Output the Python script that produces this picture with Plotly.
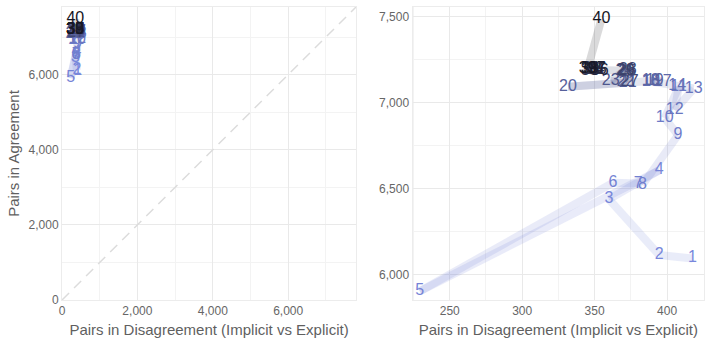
import plotly.graph_objects as go
from plotly.subplots import make_subplots

# ---- data ----
labels = [str(i) for i in range(1, 41)]
disagree = [417.5, 394.5, 359.9, 394.5, 229.3, 362.7, 380.0, 383.0, 407.6, 398.4,
            408.0, 405.3, 418.4, 407.0, 388.7, 389.0, 397.0, 388.7, 391.5, 331.6,
            372.8, 371.5, 361.1, 370.5, 372.5, 371.5, 374.2, 372.8, 371.5, 346.6,
            348.0, 348.7, 346.6, 350.8, 352.1, 353.5, 351.4, 346.6, 345.2, 354.7]
agree = [6096, 6116, 6439, 6607, 5906, 6535, 6530, 6522, 6812, 6909,
         7090, 6956, 7081, 7097, 7122, 7122, 7122, 7126, 7126, 7091,
         7116, 7120, 7126, 7184, 7180, 7184, 7120, 7190, 7184, 7190,
         7196, 7190, 7184, 7190, 7190, 7184, 7196, 7196, 7196, 7484]

left_ticks = [0, 2000, 4000, 6000]
right_xticks = [250, 300, 350, 400]
right_yticks = [6000, 6500, 7000, 7500]

# ---- colours along the sequence ----
c0 = (120, 135, 220)
c1 = (20, 20, 30)
n = len(labels)
def col(i, a=None):
    t = (i / (n - 1)) ** 1.5
    r, g, b = [round(c0[k] + (c1[k] - c0[k]) * t) for k in range(3)]
    return f"rgba({r},{g},{b},{a})" if a is not None else f"rgb({r},{g},{b})"

text_colors = [col(i) for i in range(n)]

fig = make_subplots(rows=1, cols=2, horizontal_spacing=0.088)

# diagonal reference in left panel
fig.add_trace(go.Scatter(x=[0, 7800], y=[0, 7800], mode="lines",
                         line=dict(color="#dcdcdc", width=1.5, dash="10px,7px"),
                         hoverinfo="skip", showlegend=False), row=1, col=1)

for c in (1, 2):
    for i in range(n - 1):
        fig.add_trace(go.Scatter(x=disagree[i:i + 2], y=agree[i:i + 2], mode="lines",
                                 line=dict(color=col(i + 0.5, 0.16), width=8),
                                 hoverinfo="skip", showlegend=False), row=1, col=c)
    fig.add_trace(go.Scatter(x=disagree, y=agree, mode="text", text=labels,
                             textposition="middle center",
                             textfont=dict(size=16, color=text_colors,
                                           family="Liberation Sans, Arial, sans-serif"),
                             showlegend=False), row=1, col=c)

axis_common = dict(showgrid=True, gridcolor="#e9e9e9", gridwidth=1,
                   zeroline=False, showline=True, linecolor="#ececec", mirror=True,
                   ticks="", tickfont=dict(size=12, color="#666666"),
                   tickformat=",", automargin=False,
                   title_font=dict(size=15, color="#5f5f5f"))

xtitle = "Pairs in Disagreement (Implicit vs Explicit)"
fig.update_xaxes(axis_common, range=[0, 7800], tickvals=left_ticks,
                 minor=dict(showgrid=True, gridcolor="#f3f3f3", dtick=1000, tick0=0),
                 title_text=xtitle, title_standoff=7, row=1, col=1)
fig.update_yaxes(axis_common, range=[0, 7800], tickvals=left_ticks,
                 minor=dict(showgrid=True, gridcolor="#f3f3f3", dtick=1000, tick0=0),
                 title_text="Pairs in Agreement", title_standoff=5, row=1, col=1)
fig.update_xaxes(axis_common, range=[224.3, 425.5], tickvals=right_xticks,
                 minor=dict(showgrid=True, gridcolor="#f3f3f3", dtick=25, tick0=0),
                 title_text=xtitle, title_standoff=7, row=1, col=2)
fig.update_yaxes(axis_common, range=[5855, 7554], tickvals=right_yticks,
                 minor=dict(showgrid=True, gridcolor="#f3f3f3", dtick=250, tick0=0),
                 row=1, col=2)

fig.update_layout(width=712, height=345,
                  margin=dict(l=62, r=8, t=7, b=45),
                  plot_bgcolor="white", paper_bgcolor="white",
                  font=dict(family="Liberation Sans, Arial, sans-serif", color="#666666"),
                  showlegend=False)
fig.update_xaxes(domain=[0, 0.458], row=1, col=1)
fig.update_xaxes(domain=[0.546, 1.0], row=1, col=2)

fig.write_html("out.html", config={"displayModeBar": False},
               post_script="document.body.style.margin='0';document.body.style.overflow='hidden';")
